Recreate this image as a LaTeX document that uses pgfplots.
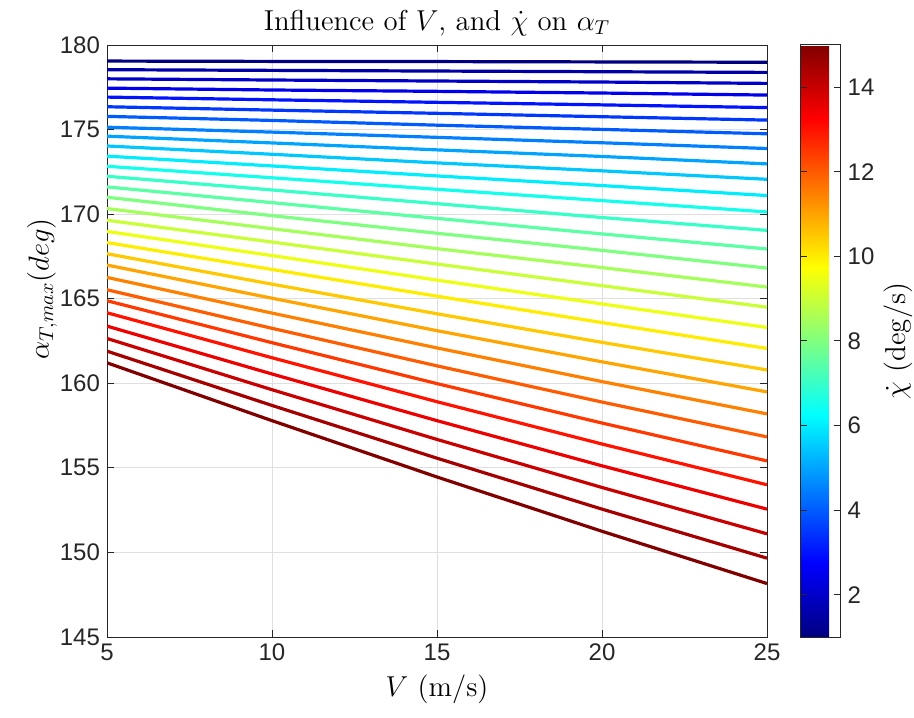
\documentclass[border=0pt]{standalone}
\usepackage{fontspec}
\newfontfamily\ticksf{Liberation Sans}
\usepackage{pgfplots}
\pgfplotsset{compat=1.18}
\definecolor{axgray}{RGB}{38,38,38}
\definecolor{gridgray}{RGB}{223,223,223}

\begin{document}
\begin{tikzpicture}
\begin{axis}[
    width=330pt, height=296pt, scale only axis,
    xmin=5, xmax=25, ymin=145, ymax=180,
    xtick={5,10,...,25}, ytick={145,150,...,180},
    grid=major, major grid style={gridgray, line width=0.4pt},
    axis line style={axgray, line width=0.5pt},
    tick style={axgray, line width=0.5pt}, major tick length=3.3pt,
    tick align=inside,
    ticklabel style={font=\ticksf\fontsize{12}{14}\selectfont, text=axgray},
    /pgf/number format/assume math mode=true,
    title={Influence of $V$, and $\dot{\chi}$ on $\alpha_T$},
    title style={font=\fontsize{14.4}{16}\selectfont, yshift=-5pt},
    xlabel={$V$ (m/s)},
    ylabel={$\alpha_{T,max} (deg)$},
    label style={font=\fontsize{14.4}{16}\selectfont},
    ylabel style={at={(axis description cs:-0.0985,0.588)}, anchor=center},
    colormap/jet,
    colorbar, point meta min=1, point meta max=15,
    colorbar style={
        at={(parent axis.north east)}, anchor=north west, xshift=8.3pt,
        width=20pt,
        ytick={2,4,...,14},
        tick align=inside, major tick length=3.3pt,
        axis line style={axgray, line width=0.5pt},
        tick style={axgray, line width=0.5pt},
        yticklabel style={font=\ticksf\fontsize{12}{14}\selectfont, text=axgray},
        /pgf/number format/assume math mode=true,
        ylabel={$\dot{\chi}$ (deg/s)},
        ylabel style={font=\fontsize{14.4}{16}\selectfont,
            at={(axis description cs:2.43,0.5)}, anchor=center},
    },
    every axis plot/.append style={line width=1.6pt, mark=none},
]
% one line per chi-dot value, 1 to 15 deg/s in steps of 0.5
\addplot[color of colormap={0 of jet}]      coordinates {(5,179.05) (10,179.03) (15,179.02) (20,179.00) (25,178.98)};
\addplot[color of colormap={35.71 of jet}]  coordinates {(5,178.54) (10,178.50) (15,178.46) (20,178.42) (25,178.38)};
\addplot[color of colormap={71.43 of jet}]  coordinates {(5,178.00) (10,177.93) (15,177.87) (20,177.81) (25,177.73)};
\addplot[color of colormap={107.14 of jet}] coordinates {(5,177.45) (10,177.34) (15,177.26) (20,177.16) (25,177.04)};
\addplot[color of colormap={142.86 of jet}] coordinates {(5,176.92) (10,176.76) (15,176.61) (20,176.46) (25,176.30)};
\addplot[color of colormap={178.57 of jet}] coordinates {(5,176.35) (10,176.15) (15,175.96) (20,175.76) (25,175.56)};
\addplot[color of colormap={214.29 of jet}] coordinates {(5,175.78) (10,175.54) (15,175.26) (20,175.01) (25,174.75)};
\addplot[color of colormap={250 of jet}]    coordinates {(5,175.14) (10,174.85) (15,174.54) (20,174.22) (25,173.88)};
\addplot[color of colormap={285.71 of jet}] coordinates {(5,174.61) (10,174.21) (15,173.80) (20,173.41) (25,172.97)};
\addplot[color of colormap={321.43 of jet}] coordinates {(5,174.03) (10,173.54) (15,173.03) (20,172.56) (25,172.06)};
\addplot[color of colormap={357.14 of jet}] coordinates {(5,173.43) (10,172.85) (15,172.26) (20,171.69) (25,171.10)};
\addplot[color of colormap={392.86 of jet}] coordinates {(5,172.83) (10,172.15) (15,171.47) (20,170.80) (25,170.13)};
\addplot[color of colormap={428.57 of jet}] coordinates {(5,172.24) (10,171.43) (15,170.62) (20,169.80) (25,169.04)};
\addplot[color of colormap={464.29 of jet}] coordinates {(5,171.61) (10,170.68) (15,169.75) (20,168.83) (25,167.94)};
\addplot[color of colormap={500 of jet}]    coordinates {(5,171.00) (10,169.91) (15,168.87) (20,167.86) (25,166.81)};
\addplot[color of colormap={535.71 of jet}] coordinates {(5,170.33) (10,169.14) (15,167.96) (20,166.84) (25,165.69)};
\addplot[color of colormap={571.43 of jet}] coordinates {(5,169.64) (10,168.35) (15,167.05) (20,165.77) (25,164.50)};
\addplot[color of colormap={607.14 of jet}] coordinates {(5,168.98) (10,167.55) (15,166.10) (20,164.69) (25,163.30)};
\addplot[color of colormap={642.86 of jet}] coordinates {(5,168.32) (10,166.73) (15,165.15) (20,163.59) (25,162.06)};
\addplot[color of colormap={678.57 of jet}] coordinates {(5,167.66) (10,165.86) (15,164.11) (20,162.42) (25,160.79)};
\addplot[color of colormap={714.29 of jet}] coordinates {(5,166.99) (10,165.03) (15,163.11) (20,161.27) (25,159.49)};
\addplot[color of colormap={750 of jet}]    coordinates {(5,166.26) (10,164.15) (15,162.09) (20,160.10) (25,158.19)};
\addplot[color of colormap={785.71 of jet}] coordinates {(5,165.53) (10,163.25) (15,161.03) (20,158.89) (25,156.83)};
\addplot[color of colormap={821.43 of jet}] coordinates {(5,164.88) (10,162.40) (15,159.98) (20,157.65) (25,155.41)};
\addplot[color of colormap={857.14 of jet}] coordinates {(5,164.17) (10,161.51) (15,158.91) (20,156.41) (25,154.00)};
\addplot[color of colormap={892.86 of jet}] coordinates {(5,163.38) (10,160.55) (15,157.79) (20,155.12) (25,152.56)};
\addplot[color of colormap={928.57 of jet}] coordinates {(5,162.65) (10,159.62) (15,156.68) (20,153.84) (25,151.10)};
\addplot[color of colormap={964.29 of jet}] coordinates {(5,161.90) (10,158.69) (15,155.57) (20,152.56) (25,149.66)};
\addplot[color of colormap={1000 of jet}]   coordinates {(5,161.21) (10,157.79) (15,154.46) (20,151.25) (25,148.16)};
\end{axis}
\pgfresetboundingbox
\path (current axis.south west) +(-53.5pt,-40pt) rectangle +(403.5pt,318.5pt);
\end{tikzpicture}
\end{document}
